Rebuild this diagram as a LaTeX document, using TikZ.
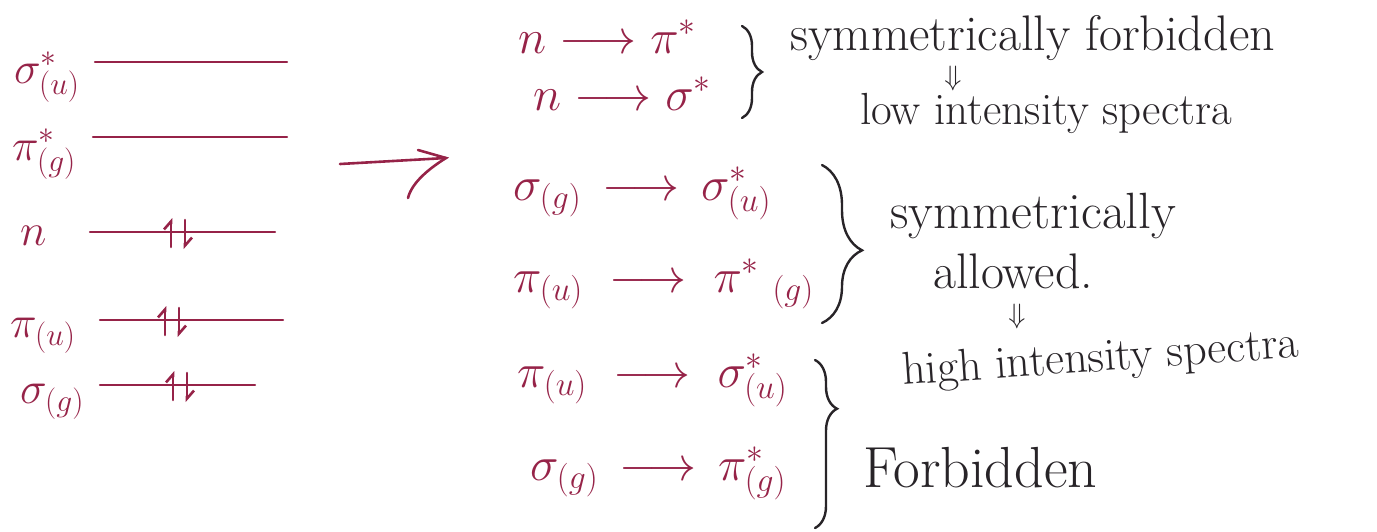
\RequirePackage{fix-cm}
\documentclass[tikz,border=0pt]{standalone}
\usetikzlibrary{arrows.meta,decorations.pathreplacing}
\definecolor{ink}{RGB}{150,35,72}
\definecolor{pen}{RGB}{40,36,40}
\newcommand{\setfs}[1]{\fontsize{#1}{#1}\selectfont}
\tikzset{
  lvl/.style={ink, line width=2.2pt, line cap=round},
  elec/.style={ink, line width=2.6pt, line cap=round, -{Straight Barb[left,length=8pt,width=14pt]}},
  orb/.style={ink, inner sep=0pt, anchor=base west, font=\setfs{45}},
  trans/.style={ink, inner sep=0pt, anchor=base west, font=\setfs{48}},
  note/.style={pen, inner sep=0pt, anchor=base west},
  dbl/.style={pen, inner sep=0pt, font=\setfs{28}},
  brc/.style={pen, line width=2.4pt, line cap=round, decorate},
}
\begin{document}
\begin{tikzpicture}[x=1pt,y=-1pt]
\useasboundingbox (0,0) rectangle (1377,531);
% ---- left: orbital levels ----
\node[orb] (s1) at (14,83) {$\sigma^{*}_{(u)}$};
\node[orb] (p1) at (12,160) {$\pi^{*}_{(g)}$};
\node[orb] (nn) at (20,245) {$n$};
\node[orb] (p2) at (10,337) {$\pi_{(u)}$};
\node[orb] (s2) at (20,403) {$\sigma_{(g)}$};
\coordinate (l1a) at (95,62);  \coordinate (l1b) at (287,62);
\coordinate (l2a) at (93,137); \coordinate (l2b) at (287,137);
\coordinate (l3a) at (90,232); \coordinate (l3b) at (275,232);
\coordinate (l4a) at (100,320); \coordinate (l4b) at (283,320);
\coordinate (l5a) at (100,385); \coordinate (l5b) at (255,385);
\draw[lvl] (l1a) -- (l1b);
\draw[lvl] (l2a) -- (l2b);
\draw[lvl] (l3a) -- (l3b);
\draw[lvl] (l4a) -- (l4b);
\draw[lvl] (l5a) -- (l5b);
\coordinate (e3) at (178,232);
\coordinate (e4) at (172,320);
\coordinate (e5) at (180,385);
\foreach \e in {e3,e4,e5}{
  \draw[elec] ([xshift=-7pt,yshift=-15pt]\e) -- ([xshift=-7pt,yshift=14pt]\e);
  \draw[elec] ([xshift=7pt,yshift=12pt]\e) -- ([xshift=7pt,yshift=-17pt]\e);
}
% ---- middle arrow ----
\coordinate (ba) at (340,164);
\coordinate (bb) at (446,158);
\coordinate (bh1) at (418,150);
\coordinate (bh2) at (408,198);
\draw[lvl, line width=2.6pt] (ba) -- (bb);
\draw[lvl, line width=2.6pt] (bh1) -- (bb) .. controls (430,168) and (412,182) .. (bh2);
% ---- transitions ----
\node[trans] (t1) at (518,53) {$n\longrightarrow\pi^{*}$};
\node[trans] (t2) at (533,110) {$n\longrightarrow\sigma^{*}$};
\node[trans] (t3) at (513,200) {$\sigma_{(g)}\,\longrightarrow\,\sigma^{*}_{(u)}$};
\node[trans] (t4) at (513,292) {$\pi_{(u)}\;\longrightarrow\;\pi^{*}\;{}_{(g)}$};
\node[trans] (t5) at (517,387) {$\pi_{(u)}\;\longrightarrow\;\sigma^{*}_{(u)}$};
\node[trans] (t6) at (530,480) {$\sigma_{(g)}\,\longrightarrow\,\pi^{*}_{(g)}$};
% ---- braces ----
\coordinate (b1a) at (742,26);  \coordinate (b1b) at (742,118);
\coordinate (b2a) at (822,165); \coordinate (b2b) at (822,323);
\coordinate (b3a) at (815,360); \coordinate (b3b) at (815,528);
\draw[brc, decoration={brace,amplitude=20pt,aspect=0.5}] (b1a) -- (b1b);
\draw[brc, decoration={brace,amplitude=40pt,aspect=0.54}] (b2a) -- (b2b);
\draw[brc, decoration={brace,amplitude=22pt,aspect=0.29}] (b3a) -- (b3b);
% ---- notes ----
\node[note, font=\setfs{50}] (a1) at (790,50) {symmetrically forbidden};
\node[dbl] (d1) at (953,78) {$\Downarrow$};
\node[note, font=\setfs{45}] (a2) at (860,124) {low intensity spectra};
\node[note, font=\setfs{51}] (a3) at (890,228) {symmetrically};
\node[note, font=\setfs{50}] (a4) at (933,288) {allowed.};
\node[dbl] (d2) at (1017,316) {$\Downarrow$};
\node[note, font=\setfs{46}, rotate=4] (a5) at (903,385) {high intensity spectra};
\node[note, font=\setfs{58}] (a6) at (863,487) {Forbidden};
\end{tikzpicture}
\end{document}
